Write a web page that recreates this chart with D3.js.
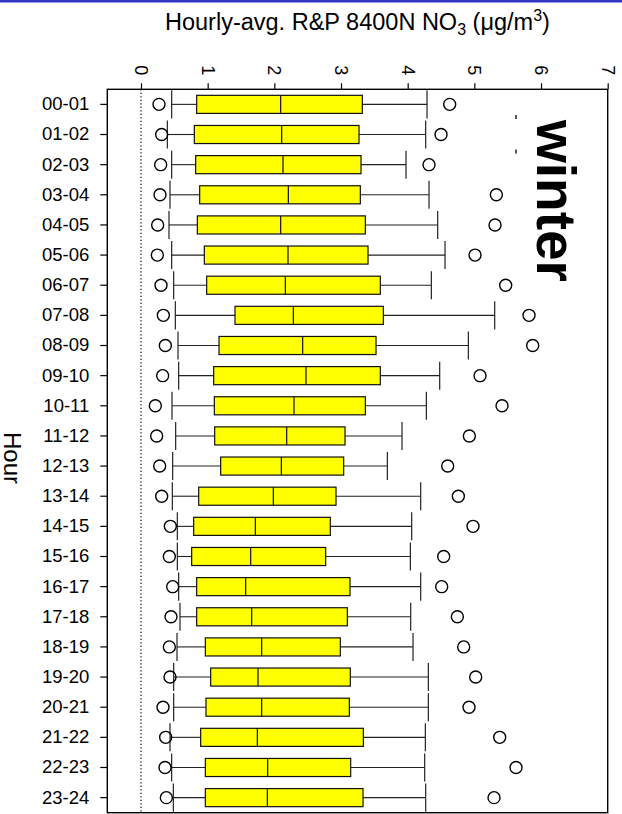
<!DOCTYPE html>
<html>
<head>
<meta charset="utf-8">
<script src="https://cdn.jsdelivr.net/npm/d3@7"></script>
<style>
  body { margin: 0; background: #fff; }
  text { font-family: Arial, "Liberation Sans", sans-serif; }
</style>
</head>
<body>
<div id="chart"></div>
<script>
// hourly NO3 box plots, winter
const hours = ["00-01","01-02","02-03","03-04","04-05","05-06","06-07","07-08","08-09","09-10","10-11","11-12",
               "12-13","13-14","14-15","15-16","16-17","17-18","18-19","19-20","20-21","21-22","22-23","23-24"];
const lowOut    = [0.27,0.31,0.295,0.285,0.25,0.245,0.30,0.335,0.365,0.325,0.215,0.235,0.28,0.31,0.44,0.425,0.475,0.45,0.425,0.435,0.33,0.37,0.36,0.38];
const whiskerLo = [0.46,0.395,0.46,0.435,0.42,0.46,0.49,0.515,0.555,0.565,0.465,0.52,0.475,0.47,0.545,0.545,0.565,0.585,0.54,0.49,0.49,0.435,0.46,0.485];
const q1        = [0.835,0.80,0.82,0.88,0.845,0.95,0.985,1.41,1.17,1.09,1.10,1.105,1.195,0.865,0.79,0.76,0.835,0.835,0.965,1.045,0.975,0.895,0.965,0.965];
const median    = [2.095,2.11,2.13,2.21,2.095,2.205,2.165,2.285,2.425,2.475,2.295,2.185,2.105,1.985,1.715,1.645,1.57,1.66,1.81,1.755,1.81,1.745,1.90,1.895];
const q3        = [3.32,3.27,3.30,3.29,3.365,3.405,3.59,3.635,3.525,3.59,3.365,3.06,3.04,2.925,2.84,2.77,3.135,3.095,2.99,3.14,3.125,3.335,3.145,3.33];
const whiskerHi = [4.29,4.27,3.975,4.32,4.45,4.56,4.355,5.305,4.91,4.48,4.28,3.915,3.695,4.195,4.06,4.04,4.195,4.045,4.08,4.31,4.31,4.265,4.255,4.27];
const highOut   = [4.63,4.50,4.32,5.33,5.31,5.01,5.47,5.82,5.875,5.085,5.415,4.925,4.60,4.76,4.98,4.54,4.51,4.745,4.84,5.02,4.92,5.38,5.625,5.295];
const xTicks = [0,1,2,3,4,5,6,7];

const width = 622, height = 814;
const frame = {left: 107.3, right: 607.7, top: 89.3, bottom: 812.7};

const svg = d3.select("#chart").append("svg")
  .attr("width", width)
  .attr("height", height);

// blue strip at the very top
svg.append("rect").attr("x", 0).attr("y", 0).attr("width", width).attr("height", 2.5).attr("fill", "#3434c4");

const x = d3.scaleLinear().domain([0, 7]).range([141, 607.7]);
const y = d3.scaleBand().domain(hours).range([frame.top, frame.bottom]);
const step = y.step();
const boxH = step * 0.6;
const capH = step * 0.93;

const data = hours.map((h, i) => ({
  h, lo: lowOut[i], wl: whiskerLo[i], q1: q1[i], med: median[i], q3: q3[i], wh: whiskerHi[i], hi: highOut[i]
}));

// dotted zero line
svg.append("line")
  .attr("x1", x(0)).attr("x2", x(0))
  .attr("y1", frame.top).attr("y2", frame.bottom)
  .attr("stroke", "#000").attr("stroke-width", 1.2)
  .attr("stroke-dasharray", "1.3,2.2");

const g = svg.append("g").selectAll("g.box")
  .data(data)
  .join("g")
  .attr("class", "box")
  .attr("transform", d => `translate(0,${y(d.h) + step / 2})`);

// whiskers
g.append("line").attr("x1", d => x(d.wl)).attr("x2", d => x(d.q1)).attr("y1", 0).attr("y2", 0)
  .attr("stroke", "#222").attr("stroke-width", 1.1);
g.append("line").attr("x1", d => x(d.q3)).attr("x2", d => x(d.wh)).attr("y1", 0).attr("y2", 0)
  .attr("stroke", "#222").attr("stroke-width", 1.1);
g.append("line").attr("x1", d => x(d.wl)).attr("x2", d => x(d.wl)).attr("y1", -capH / 2).attr("y2", capH / 2)
  .attr("stroke", "#222").attr("stroke-width", 1.2);
g.append("line").attr("x1", d => x(d.wh)).attr("x2", d => x(d.wh)).attr("y1", -capH / 2).attr("y2", capH / 2)
  .attr("stroke", "#222").attr("stroke-width", 1.2);

// boxes
g.append("rect")
  .attr("x", d => x(d.q1))
  .attr("width", d => x(d.q3) - x(d.q1))
  .attr("y", -boxH / 2)
  .attr("height", boxH)
  .attr("fill", "#ffff00")
  .attr("stroke", "#111")
  .attr("stroke-width", 1.2);
g.append("line").attr("x1", d => x(d.med)).attr("x2", d => x(d.med)).attr("y1", -boxH / 2).attr("y2", boxH / 2)
  .attr("stroke", "#111").attr("stroke-width", 1.2);

// outliers
g.append("circle").attr("cx", d => x(d.lo)).attr("cy", 0).attr("r", 6)
  .attr("fill", "none").attr("stroke", "#000").attr("stroke-width", 1.4);
g.append("circle").attr("cx", d => x(d.hi)).attr("cy", 0).attr("r", 6)
  .attr("fill", "none").attr("stroke", "#000").attr("stroke-width", 1.4);

// frame
svg.append("rect")
  .attr("x", frame.left).attr("y", frame.top)
  .attr("width", frame.right - frame.left).attr("height", frame.bottom - frame.top)
  .attr("fill", "none").attr("stroke", "#000").attr("stroke-width", 1.4);

// top axis with rotated tick labels
const topAxis = svg.append("g")
  .attr("transform", `translate(0,${frame.top})`)
  .call(d3.axisTop(x).tickValues(xTicks).tickSize(6).tickFormat(d3.format("d")));
topAxis.select(".domain").remove();
topAxis.selectAll(".tick line").attr("stroke", "#000").attr("stroke-width", 1.2);
topAxis.selectAll(".tick text")
  .attr("font-size", 18)
  .attr("fill", "#000")
  .attr("text-anchor", "middle")
  .attr("y", null).attr("dy", "0.36em")
  .attr("transform", "translate(0,-19) rotate(90)");

// left axis with hour labels
const leftAxis = svg.append("g")
  .attr("transform", `translate(${frame.left},0)`)
  .call(d3.axisLeft(y).tickSize(7).tickPadding(11));
leftAxis.select(".domain").remove();
leftAxis.selectAll(".tick line").attr("stroke", "#000").attr("stroke-width", 1.2);
leftAxis.selectAll(".tick text").attr("font-size", 18.5).attr("fill", "#000");

// titles
const title = svg.append("text")
  .attr("x", 165).attr("y", 30)
  .attr("font-size", 23.5)
  .attr("fill", "#000");
title.append("tspan").text("Hourly-avg. R&P 8400N NO");
title.append("tspan").attr("font-size", 16).attr("dy", 5).text("3");
title.append("tspan").attr("dy", -5).text(" (\u03bcg/m");
title.append("tspan").attr("font-size", 16).attr("dy", -9.5).text("3");
title.append("tspan").attr("dy", 9.5).text(")");

svg.append("text")
  .attr("transform", "translate(4,458) rotate(90)")
  .attr("text-anchor", "middle")
  .attr("font-size", 24)
  .attr("fill", "#000")
  .text("Hour");

svg.append("text")
  .attr("transform", "translate(537,201) rotate(90)")
  .attr("text-anchor", "middle")
  .attr("font-size", 55)
  .attr("font-weight", "bold")
  .attr("fill", "#000")
  .text("winter");

// two small stray marks next to the season label
svg.append("g").selectAll("line")
  .data([117, 151.5])
  .join("line")
  .attr("x1", 516).attr("x2", 516)
  .attr("y1", d => d - 2).attr("y2", d => d + 2)
  .attr("stroke", "#000").attr("stroke-width", 1.3);
</script>
</body>
</html>
